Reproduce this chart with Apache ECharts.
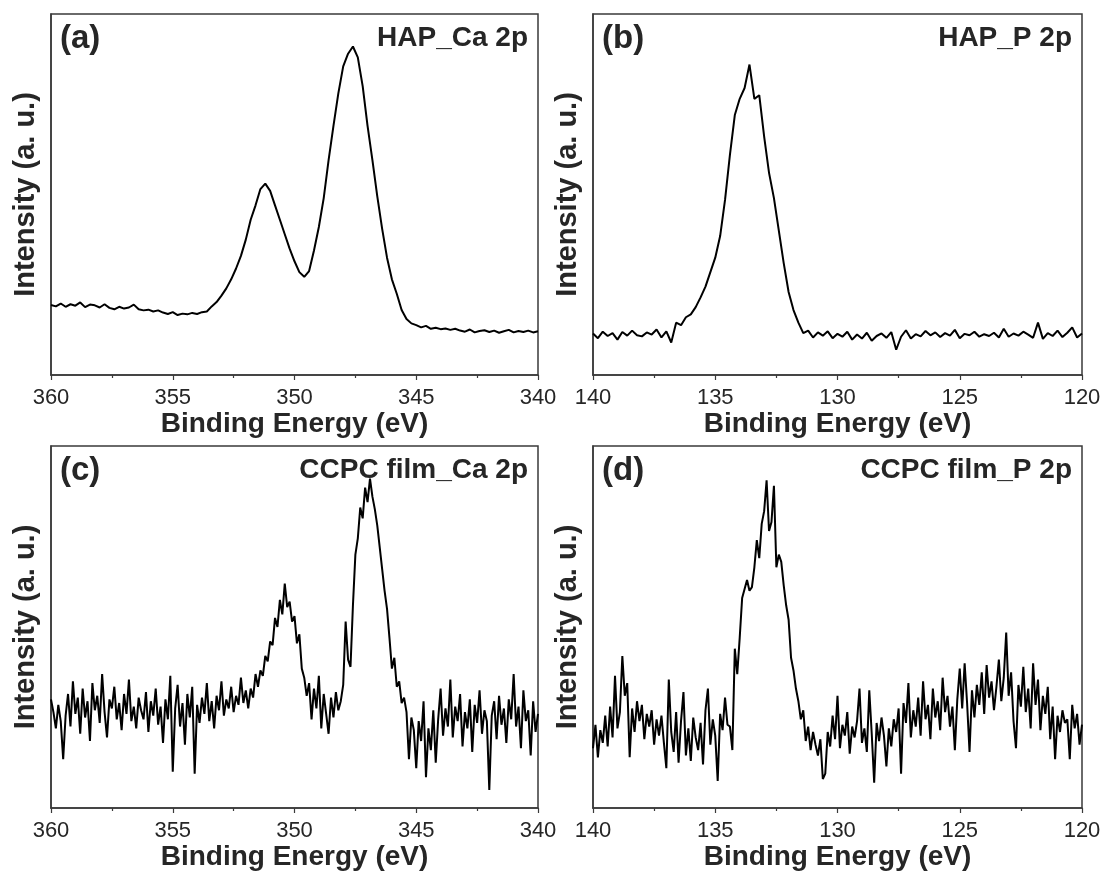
<!DOCTYPE html>
<html>
<head>
<meta charset="utf-8">
<title>XPS Ca 2p / P 2p</title>
<script src="https://cdn.jsdelivr.net/npm/echarts@6/dist/echarts.min.js"></script>
<style>
  html, body { margin: 0; padding: 0; background: #fff; }
  #main { width: 1105px; height: 877px; }
</style>
</head>
<body>
<div id="main"></div>
<script>
// energy grids: first value and step (spectra are sampled evenly, high -> low eV)
var caRange = [360, 340];
var pRange = [140, 120];
var stepHap = 0.2;
var stepFilm = 0.1;

// (a) HAP_Ca 2p, 360 -> 340 eV
var hapCa = [
  19.4, 19.0, 19.8, 18.9, 19.6, 19.2, 20.1, 18.8, 19.5, 19.3,
  18.7, 19.6, 18.6, 18.2, 18.9, 18.4, 18.7, 19.5, 18.2, 17.9,
  18.1, 17.6, 17.9, 17.3, 16.9, 17.4, 16.6, 17.0, 16.8, 17.2,
  16.9, 17.4, 17.6, 19.0, 20.2, 22.0, 24.0, 26.5, 29.5, 33.0,
  37.5, 43.0, 47.0, 51.5, 53.0, 51.0, 47.0, 43.0, 39.0, 35.0,
  31.5, 28.5, 27.2, 28.8, 34.5, 41.0, 49.0, 59.5, 69.0, 78.0,
  85.5, 89.0, 91.0, 88.0, 80.0, 69.0, 59.5, 49.5, 40.5, 32.5,
  26.5, 22.5, 18.0, 15.5, 14.3, 13.8, 13.2, 13.6, 12.8, 13.1,
  12.7, 12.9, 12.5, 12.8, 12.3, 12.0, 12.6, 11.8, 12.2, 12.4,
  11.9, 12.3, 11.7, 12.1, 12.5, 11.8, 12.2, 11.9, 12.3, 11.8,
  12.1
];

// (b) HAP_P 2p, 140 -> 120 eV
var hapP = [
  11.5, 10.2, 12.0, 10.8, 11.6, 9.8, 11.9, 10.9, 12.3, 11.0,
  10.7, 11.8, 11.2, 12.6, 10.4, 12.1, 9.0, 14.5, 13.8, 16.0,
  16.8, 18.8, 21.5, 24.5, 28.5, 32.5, 38.5, 48.5, 61.0, 72.0,
  76.5, 79.5, 86.0, 76.5, 77.5, 66.0, 56.0, 49.0, 40.0, 31.0,
  23.0, 18.0, 14.5, 11.6, 12.3, 10.4, 11.8, 10.9, 12.1, 10.2,
  11.4, 10.6, 12.0, 9.8, 11.2, 10.1, 11.7, 9.5, 10.8, 11.5,
  10.3, 11.9, 7.0, 10.6, 12.4, 10.1, 11.3, 10.7, 12.2, 11.0,
  11.8, 10.5, 11.6, 10.9, 12.5, 10.2, 11.4, 11.0, 12.0, 10.6,
  11.3, 10.8, 11.7, 10.4, 12.8, 10.6, 11.5, 10.9, 12.0, 11.2,
  10.3, 14.5, 10.0, 11.6, 10.8, 12.3, 10.5, 11.7, 13.2, 10.4,
  11.5
];

// (c) CCPC film_Ca 2p, 360 -> 340 eV
var filmCa = [
  30.0, 26.5, 22.0, 28.5, 24.0, 13.5, 25.5, 31.5, 22.5, 35.0,
  26.0, 30.5, 20.5, 33.0, 25.0, 29.5, 18.5, 34.5, 27.0, 31.0,
  23.5, 37.0, 26.5, 19.5, 30.0, 27.5, 33.5, 24.5, 29.0, 21.5,
  31.5, 26.0, 35.5, 24.0, 28.0, 22.0, 30.5, 27.0, 24.5, 32.0,
  21.0, 29.5, 25.5, 33.0, 23.0, 28.0, 18.0, 30.0, 24.5, 36.5,
  10.0, 27.5, 34.0, 22.5, 29.0, 17.5, 31.5, 25.0, 33.5, 9.5,
  28.5, 23.5, 30.5, 26.0, 34.5, 24.0, 29.5, 22.0, 31.0, 27.0,
  35.0, 25.5, 30.0, 27.5, 33.5, 26.5, 31.0, 28.5, 36.0, 29.0,
  32.5, 27.5, 33.0, 30.5, 37.0, 33.5, 38.0, 36.5, 42.0, 40.5,
  46.0, 45.0, 52.5, 50.0, 57.5, 53.5, 62.0, 55.5, 57.0, 51.5,
  53.0, 45.5, 48.0, 38.5, 36.0, 31.0, 34.5, 24.5, 33.0, 27.5,
  36.5, 22.0, 31.5, 26.0, 20.5, 30.5, 25.0, 32.0, 27.0, 29.5,
  34.0, 51.5, 41.0, 39.0, 56.0, 70.0, 74.5, 83.0, 80.0, 88.5,
  84.5, 91.0, 86.0, 82.5, 78.0, 72.0, 66.0, 60.0, 55.0, 47.0,
  38.5, 41.5, 33.5, 35.0, 29.0, 30.5, 26.5, 13.5, 25.0, 21.5,
  11.0, 24.0, 18.5, 29.5, 8.5, 22.0, 16.0, 27.0, 12.5, 24.5,
  33.0, 20.0, 27.5, 22.5, 35.5, 19.5, 28.0, 24.0, 31.5, 17.0,
  26.5, 22.0, 30.0, 15.5, 28.5, 23.5, 32.5, 20.5, 27.0, 24.0,
  5.0, 25.5, 29.5, 19.0, 31.0, 23.0, 27.5, 18.0, 30.0, 24.5,
  37.0, 22.5, 28.0, 16.5, 32.5, 24.0, 27.0, 14.5, 29.5, 21.0,
  26.0
];

// (d) CCPC film_P 2p, 140 -> 120 eV
var filmP = [
  16.5, 23.0, 14.0, 21.5, 18.0, 25.5, 17.0, 28.0, 19.5, 36.5,
  22.0, 26.5, 42.0, 31.0, 34.5, 14.0, 27.5, 21.0, 29.5, 24.0,
  28.5, 19.0, 26.0, 22.5, 27.0, 17.5, 24.5, 20.0, 25.5, 18.0,
  11.0, 35.5, 21.0, 15.5, 26.5, 12.5, 24.0, 32.0, 14.5, 22.0,
  13.0, 25.0, 19.5, 16.0, 23.5, 12.0, 27.0, 33.0, 17.5, 24.5,
  20.0, 7.5, 26.0, 21.5, 30.5, 23.0, 22.5, 16.0, 44.0, 37.0,
  47.0, 58.0, 60.5, 63.0, 60.0, 61.0, 66.5, 74.0, 69.0, 78.5,
  82.0, 90.5, 76.5, 79.0, 89.0, 66.5, 70.0, 68.0, 61.5, 56.0,
  52.0, 41.5, 38.0, 33.0, 29.5, 24.5, 27.0, 18.5, 22.5, 16.0,
  21.0, 17.5, 14.5, 19.0, 8.0, 9.5, 21.0, 17.0, 25.5, 19.0,
  31.0, 16.5, 23.0, 20.0, 26.5, 15.0, 22.5, 19.5, 24.0, 33.0,
  18.0, 22.0, 15.5, 32.5, 20.5, 7.0, 23.5, 18.5, 25.0, 20.0,
  11.5, 22.0, 17.0, 24.5, 21.0, 27.5, 9.5, 29.0, 23.5, 34.5,
  19.5, 27.0, 22.5, 30.5, 20.0, 35.0, 24.5, 28.5, 19.0, 33.0,
  25.0, 29.5, 21.5, 36.0, 26.5, 31.0, 22.5, 28.0, 16.0, 30.0,
  38.5, 27.5, 40.0, 29.0, 15.5, 32.5, 25.0, 34.0, 28.5, 37.5,
  26.0, 39.5, 30.5, 35.0, 27.0, 33.5, 41.0, 29.5, 36.0, 48.5,
  31.0, 37.5, 24.0, 16.5, 34.0, 28.0, 39.0, 26.5, 33.0, 22.0,
  40.0, 28.5, 35.5, 21.5, 31.0, 26.0, 33.5, 19.0, 28.0, 13.5,
  25.5, 21.0, 27.0, 23.5, 24.5, 13.5, 28.5, 22.0, 26.0, 17.5,
  23.0
];

var panelTags = ['(a)', '(b)', '(c)', '(d)'];
var panelNames = ['HAP_Ca 2p', 'HAP_P 2p', 'CCPC film_Ca 2p', 'CCPC film_P 2p'];

function toPairs(start, step, values) {
  return values.map(function (v, i) {
    return [Math.round((start - i * step) * 100) / 100, v];
  });
}

var font = "'Liberation Sans', Arial, Helvetica, sans-serif";
var ink = '#262626';
var frame = '#3a3a3a';

// plot boxes in pixels
var boxes = [
  { left: 51, top: 14, width: 487, height: 361 },
  { left: 593, top: 14, width: 489, height: 361 },
  { left: 51, top: 446, width: 487, height: 362 },
  { left: 593, top: 446, width: 489, height: 362 }
];
var ranges = [caRange, pRange, caRange, pRange];
var sets = [
  toPairs(caRange[0], stepHap, hapCa),
  toPairs(pRange[0], stepHap, hapP),
  toPairs(caRange[0], stepFilm, filmCa),
  toPairs(pRange[0], stepFilm, filmP)
];

var myChart = echarts.init(document.getElementById('main'), null, { renderer: 'canvas' });

var grids = [], xAxes = [], yAxes = [], series = [], graphics = [];
boxes.forEach(function (b, i) {
  grids.push({
    left: b.left, top: b.top, width: b.width, height: b.height,
    show: true, borderColor: frame, borderWidth: 1.5, backgroundColor: 'transparent'
  });
  xAxes.push({
    gridIndex: i,
    type: 'value',
    inverse: true,
    min: ranges[i][1],
    max: ranges[i][0],
    interval: 5,
    name: 'Binding Energy (eV)',
    nameLocation: 'middle',
    nameGap: 33,
    nameTextStyle: { fontFamily: font, fontSize: 28, fontWeight: 'bold', color: ink },
    axisLine: { show: true, lineStyle: { color: frame, width: 1.5 } },
    axisTick: { show: true, inside: false, length: 5, lineStyle: { color: frame, width: 1.2 } },
    minorTick: { show: true, splitNumber: 2, length: 3, lineStyle: { color: frame, width: 1.2 } },
    axisLabel: {
      show: true, margin: 12, fontFamily: font, fontSize: 22, color: ink,
      showMinLabel: true, showMaxLabel: true
    },
    splitLine: { show: false },
    minorSplitLine: { show: false }
  });
  yAxes.push({
    gridIndex: i,
    type: 'value',
    min: 0,
    max: 100,
    name: 'Intensity (a. u.)',
    nameLocation: 'middle',
    nameGap: 11,
    nameTextStyle: { fontFamily: font, fontSize: 29, fontWeight: 'bold', color: ink },
    axisLine: { show: true, lineStyle: { color: frame, width: 1.5 } },
    axisTick: { show: false },
    axisLabel: { show: false },
    splitLine: { show: false }
  });
  series.push({
    type: 'line',
    xAxisIndex: i,
    yAxisIndex: i,
    data: sets[i],
    showSymbol: false,
    symbol: 'none',
    lineStyle: { color: '#000', width: 2 },
    clip: true,
    silent: true
  });
  graphics.push({
    type: 'text',
    style: {
      x: b.left + 9, y: b.top + 25,
      text: panelTags[i],
      font: 'bold 33px ' + font,
      fill: ink,
      textAlign: 'left', textVerticalAlign: 'middle'
    }
  });
  graphics.push({
    type: 'text',
    style: {
      x: b.left + b.width - 10, y: b.top + 24,
      text: panelNames[i],
      font: 'bold 28px ' + font,
      fill: ink,
      textAlign: 'right', textVerticalAlign: 'middle'
    }
  });
});

var option = {
  animation: false,
  backgroundColor: '#fff',
  grid: grids,
  xAxis: xAxes,
  yAxis: yAxes,
  series: series,
  graphic: graphics
};

myChart.setOption(option);
</script>
</body>
</html>
